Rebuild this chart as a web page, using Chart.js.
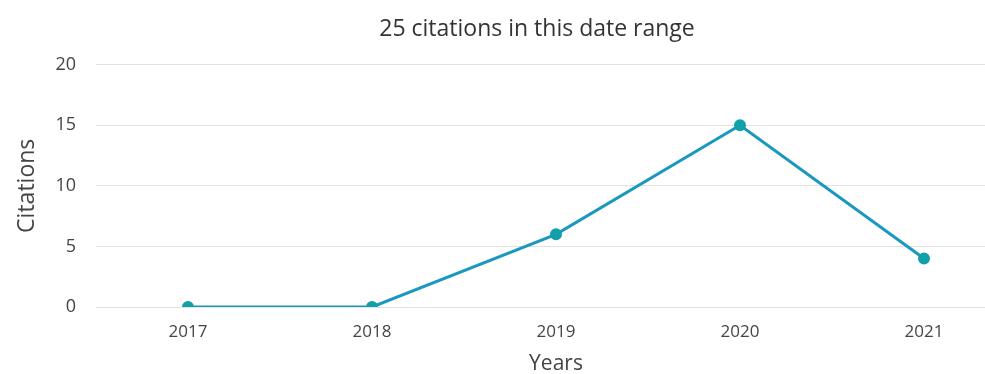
<!DOCTYPE html>
<html lang="en">
<head>
  <meta charset="UTF-8" />
  <title>Citations</title>
  <script src="https://cdn.jsdelivr.net/npm/chart.js"></script>
  <style>
    html, body { margin: 0; padding: 0; background: #fff; overflow: hidden; }
    #wrap { width: 1074px; height: 374px; position: relative; }
  </style>
</head>
<body>
  <div id="wrap">
    <canvas id="citationsChart"></canvas>
  </div>

  <script>
    const years = ['2017', '2018', '2019', '2020', '2021'];
    const citations = [0, 0, 6, 15, 4];
    const yTicks = [0, 5, 10, 15, 20];

    const font = "'Open Sans', Lato, sans-serif";

    const ctx = document.getElementById('citationsChart').getContext('2d');
    new Chart(ctx, {
      type: 'line',
      data: {
        labels: years,
        datasets: [{
          label: 'Citations',
          data: citations,
          borderColor: '#1b98c0',
          borderWidth: 3,
          pointBackgroundColor: '#12a0ab',
          pointBorderColor: '#12a0ab',
          pointRadius: 4.5,
          tension: 0,
          fill: false
        }]
      },
      options: {
        responsive: true,
        maintainAspectRatio: false,
        animation: false,
        layout: { padding: 0 },
        plugins: {
          legend: { display: false },
          tooltip: { enabled: false },
          title: {
            display: true,
            text: '25 citations in this date range',
            color: '#333',
            font: { family: font, size: 23, weight: 'normal' },
            padding: { top: 16, bottom: 21 }
          }
        },
        scales: {
          x: {
            offset: true,
            grid: { display: false },
            border: { display: false },
            ticks: { color: '#444', font: { family: font, size: 17 }, padding: 7 },
            title: {
              display: true,
              text: 'Years',
              color: '#444',
              font: { family: font, size: 21 },
              padding: { top: 0, bottom: -3 }
            },
            afterFit: axis => { axis.height = 67; }
          },
          y: {
            min: 0,
            max: 20,
            afterBuildTicks: axis => { axis.ticks = yTicks.map(v => ({ value: v })); },
            grid: { color: '#e2e2e2', lineWidth: 1, drawTicks: false },
            border: { display: false },
            ticks: { color: '#444', font: { family: font, size: 18 }, padding: 20 },
            title: {
              display: true,
              text: 'Citations',
              color: '#444',
              font: { family: font, size: 23 },
              padding: { top: 14, bottom: 0 }
            },
            afterFit: axis => { axis.width = 96; }
          },
          spacer: {
            position: 'right',
            display: true,
            grid: { display: false },
            border: { display: false },
            ticks: { display: false },
            afterFit: axis => { axis.width = 58; }
          }
        }
      }
    });
  </script>
</body>
</html>
